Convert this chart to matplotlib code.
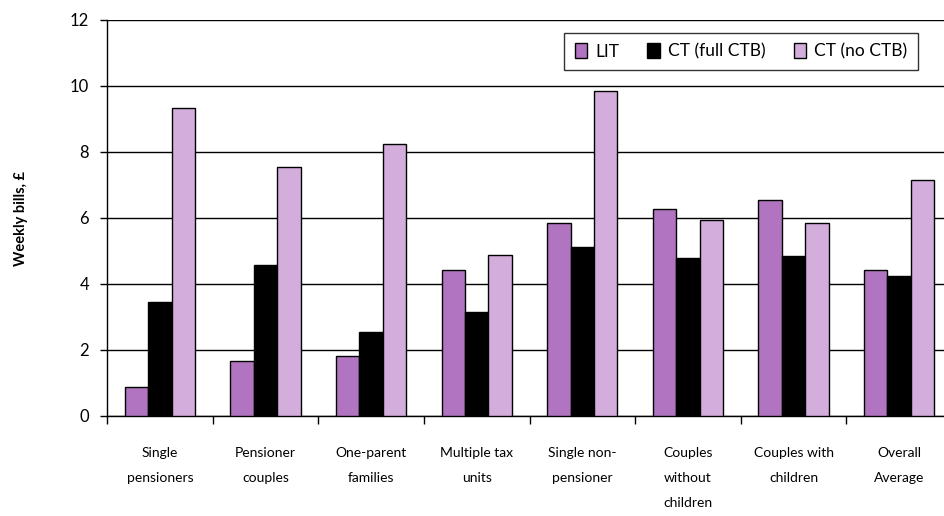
import matplotlib.pyplot as plt
import numpy as np

plt.rcParams['font.family'] = ['Lato', 'DejaVu Sans']

categories = ["Single\npensioners", "Pensioner\ncouples", "One-parent\nfamilies",
              "Multiple tax\nunits", "Single non-\npensioner", "Couples\nwithout\nchildren",
              "Couples with\nchildren", "Overall\nAverage"]
lit = [0.88, 1.67, 1.82, 4.42, 5.85, 6.27, 6.55, 4.42]
ct_full = [3.45, 4.58, 2.55, 3.15, 5.12, 4.80, 4.85, 4.24]
ct_none = [9.33, 7.54, 8.24, 4.88, 9.85, 5.94, 5.85, 7.15]
series_names = ["LIT", "CT (full CTB)", "CT (no CTB)"]
colors = ["#B074C0", "#000000", "#D3AEDC"]

fig = plt.figure(figsize=(9.45, 5.16), dpi=100)
ax = fig.add_axes([107/945, 100/516, 845/945, 396/516])

x = np.arange(len(categories))
w = 0.222
for k, (vals, name, c) in enumerate(zip([lit, ct_full, ct_none], series_names, colors)):
    ax.bar(x + (k - 1) * w, vals, w, color=c, edgecolor="black", linewidth=1,
           label=name, zorder=3)

ax.set_xlim(-0.5, len(categories) - 0.5)
ax.set_ylim(0, 12)
ax.set_yticks(range(0, 13, 2))
ax.yaxis.grid(True, color="black", linewidth=1)
ax.set_axisbelow(True)

for s in ["top", "right"]:
    ax.spines[s].set_visible(False)
ax.spines["left"].set_linewidth(1)
ax.spines["bottom"].set_linewidth(1)

# group boundaries get the tick marks, group centres get the labels
ax.set_xticks(np.arange(len(categories) + 1) - 0.5, minor=False)
ax.set_xticklabels([])
ax.set_xticks(x, minor=True)
ax.set_xticklabels(categories, minor=True, fontsize=10, linespacing=2.3, va="top")
ax.tick_params(axis="x", which="major", length=6, direction="out", width=1)
ax.tick_params(axis="x", which="minor", length=0, pad=22)
ax.tick_params(axis="y", length=5, width=1, labelsize=12, pad=8)

ax.set_ylabel("Weekly bills, £", fontsize=10.5, fontweight="bold", labelpad=30)

leg = ax.legend(loc="upper right", bbox_to_anchor=(811/845, 1 - 13/396), ncol=3,
                frameon=True, fancybox=False, edgecolor="black", fontsize=12.5,
                handlelength=0.7, handleheight=0.9, columnspacing=1.6,
                handletextpad=0.5, borderpad=0.6, borderaxespad=0)
leg.get_frame().set_linewidth(1)

fig.savefig("out.png", dpi=100)
